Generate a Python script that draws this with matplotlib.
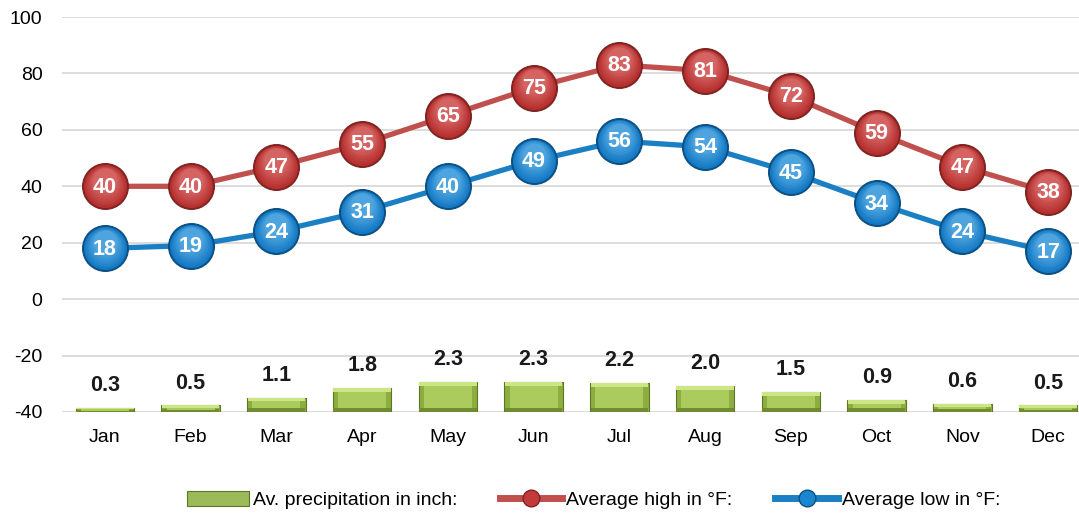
import matplotlib
matplotlib.use("Agg")
import matplotlib.pyplot as plt
from matplotlib import font_manager
from matplotlib.lines import Line2D
from matplotlib.patches import Patch
from matplotlib.colors import to_rgb

months = ["Jan", "Feb", "Mar", "Apr", "May", "Jun", "Jul", "Aug", "Sep", "Oct", "Nov", "Dec"]
precip = [0.3, 0.5, 1.1, 1.8, 2.3, 2.3, 2.2, 2.0, 1.5, 0.9, 0.6, 0.5]
high_f = [40, 40, 47, 55, 65, 75, 83, 81, 72, 59, 47, 38]
low_f = [18, 19, 24, 31, 40, 49, 56, 54, 45, 34, 24, 17]
y_ticks = [-40, -20, 0, 20, 40, 60, 80, 100]

names = {f.name for f in font_manager.fontManager.ttflist}
family = "Liberation Sans Narrow" if "Liberation Sans Narrow" in names else "Liberation Sans"
plt.rcParams["font.family"] = [family, "DejaVu Sans"]
plt.rcParams["axes.unicode_minus"] = False

fig = plt.figure(figsize=(10.79, 5.16), dpi=100)
ax = fig.add_axes([62 / 1079, 1 - 412 / 516, 1 - 62 / 1079, 395 / 516])
ax2 = ax.twinx()

x = list(range(len(months)))

# gridlines and axis styling
ax.set_ylim(-40, 100)
ax.set_yticks(y_ticks)
ax.set_xlim(-0.5, 11.36)
ax.grid(axis="y", color="#d9d9d9", linewidth=1.3)
ax.set_axisbelow(True)
for s in ax.spines.values():
    s.set_visible(False)
for s in ax2.spines.values():
    s.set_visible(False)
ax.tick_params(axis="y", length=0, labelsize=14, pad=14)
ax.tick_params(axis="x", length=0, labelsize=14, pad=12)
ax.set_xticks(x)
ax.set_xticklabels(months)
ax2.set_yticks([])
ax2.set_ylim(0, 30)

# precipitation bars on the hidden secondary scale, with a bevelled face
bw = 0.68
bev_y = 0.3      # vertical bevel depth in secondary-axis units
bev_x = 0.06     # horizontal bevel depth in category units
ax2.bar(x, precip, width=bw, color="#8cae40", edgecolor="#5c7526", linewidth=0.8, zorder=2)
tops = [min(bev_y, p * 0.35) for p in precip]
ax2.bar(x, tops, bottom=[p - t for p, t in zip(precip, tops)], width=bw - 0.01,
        color="#cce685", linewidth=0, zorder=3)
ax2.bar(x, tops, bottom=[0.02] * len(x), width=bw - 0.01,
        color="#6f8d2e", linewidth=0, zorder=3)
ax2.bar(x, [p - 2 * t for p, t in zip(precip, tops)], bottom=tops, width=bw - 2 * bev_x,
        color="#abcb5e", linewidth=0, zorder=4)
for xi, p in zip(x, precip):
    ax2.text(xi, p + 0.9, f"{p:.1f}", ha="center", va="bottom", fontsize=15.5,
             fontweight="bold", color="#1a1a1a", zorder=5)


def blend(c1, c2, t):
    a, b = to_rgb(c1), to_rgb(c2)
    return tuple(a[i] + (b[i] - a[i]) * t for i in range(3))


# temperature lines with shaded spherical markers
def draw_series(vals, line_c, dark_c, base_c, light_c):
    ax.plot(x, vals, color=line_c, linewidth=3.8, zorder=6, solid_capstyle="round")
    ax.plot(x, vals, linestyle="none", marker="o", markersize=33, markerfacecolor=dark_c,
            markeredgecolor=dark_c, markeredgewidth=0.8, zorder=7)
    steps = 8
    for k in range(steps):
        t = k / (steps - 1)
        size = 31 - t * 14
        shift = t * 2.2
        col = blend(base_c, light_c, t * 0.55)
        ax.plot(x, [v + shift for v in vals], linestyle="none", marker="o", markersize=size,
                markerfacecolor=col, markeredgewidth=0, zorder=7.1 + k * 0.01)
    for xi, v in zip(x, vals):
        ax.text(xi, v - 0.3, f"{v}", ha="center", va="center", fontsize=15.5, fontweight="bold",
                color="white", zorder=10)

draw_series(high_f, "#c0504d", "#7e2321", "#b5302f", "#ef8d8b")
draw_series(low_f, "#1b7fc4", "#0b4f82", "#1479c4", "#7cc8f5")

handles = [
    Patch(facecolor="#9bbb59", edgecolor="#5c7526", linewidth=0.8),
    Line2D([0], [0], color="#c0504d", linewidth=5, marker="o", markersize=12,
           markerfacecolor="#c23b3a", markeredgecolor="#7e2321"),
    Line2D([0], [0], color="#1b7fc4", linewidth=5, marker="o", markersize=12,
           markerfacecolor="#1a86d0", markeredgecolor="#0b4f82"),
]
labels = ["Av. precipitation in inch:", "Average high in °F:", "Average low in °F:"]
fig.legend(handles, labels, loc="center", bbox_to_anchor=(0.55, 1 - 500 / 516), ncol=3,
           frameon=False, fontsize=14, handlelength=3.2, handletextpad=0.2,
           columnspacing=2.2, handleheight=0.8)

fig.savefig("out.png", dpi=100)
